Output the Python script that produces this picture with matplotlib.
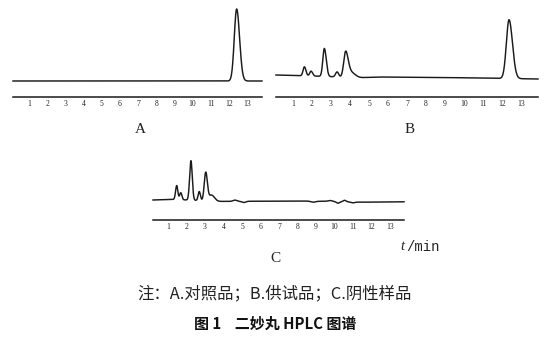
import numpy as np
import matplotlib
matplotlib.use("Agg")
import matplotlib.pyplot as plt

plt.rcParams['font.family'] = ['Noto Sans CJK SC', 'DejaVu Sans']

W, H = 552, 342

# ---- data: retention times (min), peak heights and widths (signal units) ----
minute_ticks = list(range(1, 14))

# A: reference standard
a_base_t = [0.1, 14.0]
a_base_v = [16.0, 16.0]
a_rt = [12.43]
a_h = [72.0]
a_sl = [0.13]
a_sr = [0.16]

# B: test sample
b_base_t = [0.1, 1.0, 2.0, 4.5, 5.5, 9.0, 12.0, 13.9]
b_base_v = [22.0, 21.5, 21.0, 19.3, 20.0, 19.5, 18.6, 18.0]
b_rt = [1.60, 1.95, 2.65, 3.32, 3.77, 4.05, 12.37]
b_h = [9.0, 4.8, 28.0, 5.0, 25.0, 5.0, 58.8]
b_sl = [0.07, 0.07, 0.08, 0.08, 0.10, 0.16, 0.14]
b_sr = [0.08, 0.08, 0.10, 0.08, 0.13, 0.22, 0.18]

# C: negative control
c_base_t = [0.19, 1.0, 1.3, 3.8, 6.0, 8.0, 9.5, 11.5, 13.76]
c_base_v = [20.0, 20.5, 20.6, 18.6, 18.8, 19.1, 18.6, 17.8, 18.2]
c_rt = [1.47, 1.69, 2.24, 2.69, 3.04, 3.35, 4.62, 5.10, 8.85, 9.76, 10.19, 10.55, 11.0]
c_h = [14.0, 7.0, 39.5, 9.0, 28.5, 6.0, 1.2, -1.2, -1.0, 1.0, -1.5, 1.5, -0.8]
c_sl = [0.06, 0.06, 0.07, 0.06, 0.08, 0.12, 0.10, 0.10, 0.12, 0.12, 0.08, 0.08, 0.10]
c_sr = [0.06, 0.06, 0.07, 0.06, 0.09, 0.16, 0.10, 0.10, 0.12, 0.12, 0.08, 0.08, 0.10]


def trace(t, base_t, base_v, rt, h, sl, sr):
    y = np.interp(t, base_t, base_v)
    for r, hh, s1, s2 in zip(rt, h, sl, sr):
        s = np.where(t < r, s1, s2)
        y = y + hh * np.exp(-0.5 * ((t - r) / s) ** 2)
    return y


def panel(px0, px1, top_px, axis_px, px_t1, px_t13, data, label, label_xy):
    # minutes <-> pixel mapping from the tick positions
    ppm = (px_t13 - px_t1) / 12.0
    t0 = 1 + (px0 - px_t1) / ppm
    t1 = 1 + (px1 - px_t1) / ppm
    ax = fig.add_axes([px0 / W, 1 - axis_px / H, (px1 - px0) / W, (axis_px - top_px) / H])
    ax.set_xlim(t0, t1)
    ax.set_ylim(0, axis_px - top_px)
    t = np.linspace(t0, t1, 3000)
    ax.plot(t, trace(t, *data), color='#1a1a1a', lw=1.05, clip_on=False)
    for s in ('top', 'left', 'right'):
        ax.spines[s].set_visible(False)
    ax.spines['bottom'].set_linewidth(1.1)
    ax.spines['bottom'].set_color('#1a1a1a')
    ax.set_yticks([])
    ax.set_xticks(minute_ticks)
    ax.set_xticklabels([str(m) for m in minute_ticks], fontsize=5.5,
                       family='Liberation Serif', color='#222222')
    ax.tick_params(axis='x', length=0, pad=2.0)
    ax.patch.set_alpha(0)
    fig.text(label_xy[0] / W, 1 - label_xy[1] / H, label, ha='center', va='center',
             fontsize=11, family='Liberation Serif', color='#222222')
    return ax


fig = plt.figure(figsize=(W / 100, H / 100), dpi=100)

panel(13, 262, 0, 97, 29, 247,
      (a_base_t, a_base_v, a_rt, a_h, a_sl, a_sr), 'A', (140, 129))
panel(276, 538, 0, 97, 293, 521,
      (b_base_t, b_base_v, b_rt, b_h, b_sl, b_sr), 'B', (410, 129))
panel(153, 404, 140, 220, 168, 390,
      (c_base_t, c_base_v, c_rt, c_h, c_sl, c_sr), 'C', (275, 259))

fig.text(400 / W, 1 - 247 / H, 't', ha='left', va='center', fontsize=10.5,
         family='Liberation Serif', style='italic', color='#222222')
fig.text(406 / W, 1 - 247 / H, '/min', ha='left', va='center', fontsize=10,
         family='Liberation Mono', color='#222222')

fig.text(275 / W, 1 - 294 / H, '注：A.对照品；B.供试品；C.阴性样品', ha='center', va='center',
         fontsize=11.8, color='#222222')
fig.text(275 / W, 1 - 324 / H, '图 1    二妙丸 HPLC 图谱', ha='center', va='center',
         fontsize=10.8, weight='bold', color='#111111')

fig.savefig('out.png', dpi=100)
